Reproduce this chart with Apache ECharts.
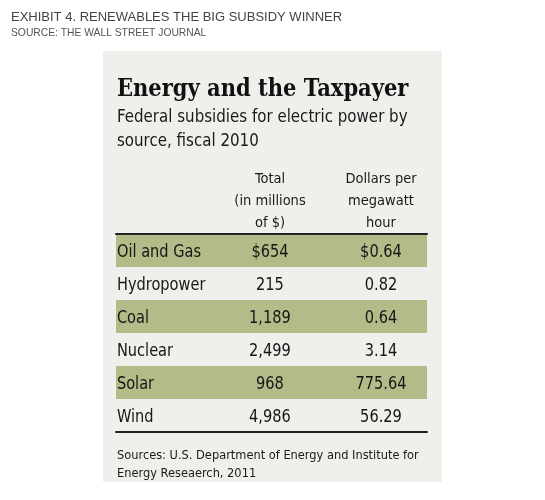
<!DOCTYPE html>
<html><head><meta charset="utf-8">
<script src="https://cdn.jsdelivr.net/npm/echarts@6/dist/echarts.min.js"></script>
<style>html,body{margin:0;padding:0;background:#fff}#c{width:545px;height:500px}</style>
</head><body><div id="c"></div>
<script>
const sources = ['Oil and Gas', 'Hydropower', 'Coal', 'Nuclear', 'Solar', 'Wind'];
const totalMillions = [654, 215, 1189, 2499, 968, 4986];
const dollarsPerMWh = [0.64, 0.82, 0.64, 3.14, 775.64, 56.29];
const colHeaders = [['Total', '(in millions', 'of $)'], ['Dollars per', 'megawatt', 'hour']];

const COND = "'DejaVu Sans Condensed', 'DejaVu Sans', sans-serif";
const COL_X = { label: 0.003, total: 0.495, dollars: 0.852 };

function fmtTotal(v, i) { const s = v.toLocaleString('en-US'); return i === 0 ? '$' + s : s; }
function fmtDollar(v, i) { const s = v.toFixed(2); return i === 0 ? '$' + s : s; }

const chart = echarts.init(document.getElementById('c'), null, { renderer: 'canvas' });

function textSeries(name, x, formatter, align) {
  return {
    name, type: 'custom', silent: true, xAxisIndex: 0,
    data: sources.map((s, i) => [x, i]),
    renderItem: (params, api) => {
      const p = api.coord([api.value(0), api.value(1)]);
      return {
        type: 'text', x: p[0], y: p[1] + 1.5, scaleX: 0.9,
        style: {
          text: formatter(params.dataIndex), fill: '#161616',
          font: '18px ' + COND, align: align, verticalAlign: 'middle'
        }
      };
    }
  };
}

const graphics = [
  { type: 'rect', shape: { x: 103, y: 51, width: 339, height: 431 }, style: { fill: '#eef0ec' }, z: -10 },
  { type: 'text', left: 11, top: 11, style: { text: 'EXHIBIT 4. RENEWABLES THE BIG SUBSIDY WINNER', fill: '#444', font: "13px 'Liberation Sans', Arial, sans-serif" } },
  { type: 'text', left: 11, top: 28.5, style: { text: 'SOURCE: THE WALL STREET JOURNAL', fill: '#555', font: "10.3px 'Liberation Sans', Arial, sans-serif" } },
  { type: 'text', left: 117, top: 78, style: { text: 'Energy and the Taxpayer', fill: '#111', font: "bold 23.4px 'DejaVu Serif Condensed', 'DejaVu Serif', serif" } },
  { type: 'text', x: 117, y: 106, scaleX: 0.985, style: { text: 'Federal subsidies for electric power by\nsource, fiscal 2010', fill: '#1a1a1a', font: "17px " + COND, lineHeight: 24 } }
];
colHeaders.forEach((lines, k) => {
  const cx = k === 0 ? 270 : 381;
  graphics.push({ type: 'text', x: cx, y: 168, style: { text: lines.join('\n'), fill: '#1a1a1a', font: "14.5px " + COND, lineHeight: 22, align: 'center' } });
});
graphics.push(
  { type: 'text', left: 117, top: 447, style: { text: 'Sources: U.S. Department of Energy and Institute for\nEnergy Reseaerch, 2011', fill: '#1a1a1a', font: "12.7px " + COND, lineHeight: 17.5 } }
);

chart.setOption({
  animation: false,
  backgroundColor: '#fff',
  grid: { left: 116, right: 118, top: 234, height: 198 },
  xAxis: [
    { type: 'value', min: 0, max: 1, position: 'top', axisLine: { show: true, onZero: false, lineStyle: { color: '#222', width: 2 } }, axisTick: { show: false }, axisLabel: { show: false }, splitLine: { show: false } },
    { type: 'value', min: 0, max: 1, position: 'bottom', axisLine: { show: true, onZero: false, lineStyle: { color: '#222', width: 2 } }, axisTick: { show: false }, axisLabel: { show: false }, splitLine: { show: false } }
  ],
  yAxis: {
    type: 'category', data: sources, inverse: true,
    axisLine: { show: false }, axisTick: { show: false }, axisLabel: { show: false },
    splitLine: { show: false },
    splitArea: { show: true, areaStyle: { color: ['#b4bb88', 'rgba(0,0,0,0)'] } }
  },
  graphic: graphics,
  series: [
    textSeries('Source', COL_X.label, i => sources[i], 'left'),
    textSeries('Total', COL_X.total, i => fmtTotal(totalMillions[i], i), 'center'),
    textSeries('Dollars per MWh', COL_X.dollars, i => fmtDollar(dollarsPerMWh[i], i), 'center')
  ]
});
</script></body></html>
